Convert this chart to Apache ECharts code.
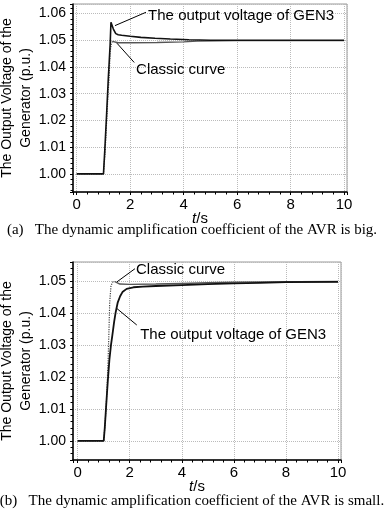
<!DOCTYPE html>
<html>
<head>
<meta charset="utf-8">
<script src="https://cdn.jsdelivr.net/npm/echarts@6/dist/echarts.min.js"></script>
<style>
html, body { margin: 0; padding: 0; background: #fff; }
#chart { width: 384px; height: 513px; }
</style>
</head>
<body>
<div id="chart"></div>
<script>
const FONT = '"Liberation Sans", Arial, sans-serif';

// (a) big dynamic amplification: [t (s), voltage (p.u.)]
const gen3A = [
  [0, 1.000], [1.00, 1.000], [1.05, 1.009], [1.12, 1.023], [1.18, 1.0356],
  [1.22, 1.043], [1.25, 1.0485], [1.28, 1.0568], [1.31, 1.0563], [1.37, 1.0542],
  [1.46, 1.0525], [1.55, 1.0521], [1.68, 1.0519], [2.0, 1.0515], [2.4, 1.0511],
  [2.93, 1.0508], [3.5, 1.0505], [4.2, 1.0502], [5.0, 1.0500], [10, 1.0500]
];
const classicA = [
  [0, 1.000], [1.00, 1.000], [1.06, 1.008], [1.12, 1.020], [1.17, 1.030],
  [1.21, 1.0356], [1.25, 1.0459], [1.29, 1.0485], [1.33, 1.0496],
  [1.40, 1.0494], [1.55, 1.0491], [2.0, 1.0491], [3.0, 1.0492],
  [4.0, 1.0494], [4.5, 1.0497], [6.0, 1.0499], [10, 1.0499]
];
const classicRiseEndA = 8;

// (b) small dynamic amplification
const gen3B = [
  [0, 1.000], [1.00, 1.000], [1.04, 1.004], [1.11, 1.013], [1.16, 1.019],
  [1.22, 1.0255], [1.28, 1.030], [1.33, 1.0329], [1.40, 1.0372], [1.46, 1.0402],
  [1.54, 1.0433], [1.63, 1.0452], [1.72, 1.0465], [1.88, 1.0475], [2.14, 1.0480],
  [2.5, 1.0482], [3.0, 1.0484], [4.0, 1.0487], [5.0, 1.0490], [6.0, 1.0492],
  [7.0, 1.0494], [8.0, 1.0496], [10, 1.0497]
];
const classicB = [
  [0, 1.000], [1.00, 1.000], [1.05, 1.005], [1.11, 1.013], [1.17, 1.0255],
  [1.20, 1.034], [1.23, 1.0433], [1.28, 1.0485], [1.34, 1.0496], [1.43, 1.0498],
  [1.50, 1.0493], [1.62, 1.0490], [2.0, 1.0489], [3.0, 1.0490], [4.0, 1.0492],
  [5.0, 1.0494], [6.0, 1.0496], [7.0, 1.0497], [10, 1.0498]
];
const classicRiseEndB = 9;

const xTicks = [0, 2, 4, 6, 8, 10];
const yTicksA = [1.00, 1.01, 1.02, 1.03, 1.04, 1.05, 1.06];
const yTicksB = [1.00, 1.01, 1.02, 1.03, 1.04, 1.05];

const yName = 'The Output Voltage of the\nGenerator (p.u.)';
const captionA = '(a)   The dynamic amplification coefficient of the AVR is big.';
const captionB = '(b)   The dynamic amplification coefficient of the AVR is small.';
const labelGen3 = 'The output voltage of GEN3';
const labelClassic = 'Classic curve';

// leader lines and labels, in data units of each panel
const notes = [
  { panel: 0, from: [1.43, 1.0555], to: [2.59, 1.0605], text: labelGen3, at: [2.67, 1.0593] },
  { panel: 0, from: [1.47, 1.0493], to: [2.15, 1.0417], text: labelClassic, at: [2.22, 1.0390] },
  { panel: 1, from: [1.51, 1.0497], to: [2.20, 1.0538], text: labelClassic, at: [2.24, 1.0534] },
  { panel: 1, from: [1.50, 1.0414], to: [2.27, 1.0362], text: labelGen3, at: [2.40, 1.0331] }
];

function xAxisFor(idx, min, max) {
  return {
    type: 'value', gridIndex: idx, min: min, max: max,
    name: '{i|t}/s', nameLocation: 'middle', nameGap: 19, nameMoveOverlap: false,
    nameTextStyle: {
      fontSize: 15, color: '#000', fontFamily: FONT, padding: [0, 20, 0, 0],
      rich: { i: { fontStyle: 'italic', fontSize: 15, color: '#000', fontFamily: FONT } }
    },
    axisLine: { show: true, onZero: false, lineStyle: { color: '#000', width: 1.5 } },
    axisTick: { show: true, length: 3, lineStyle: { color: '#000' } },
    minorTick: { show: true, splitNumber: 5, length: 2.5, lineStyle: { color: '#000' } },
    axisLabel: {
      customValues: xTicks, formatter: v => String(v),
      fontSize: 15, color: '#000', margin: 5, fontFamily: FONT
    },
    splitLine: { show: true, lineStyle: { color: '#bbb', type: 'dotted' } }
  };
}

function yAxisFor(idx, min, max, ticks) {
  return {
    type: 'value', gridIndex: idx, min: min, max: max,
    name: yName, nameLocation: 'middle', nameGap: 37, nameMoveOverlap: false,
    nameTextStyle: { fontSize: 14, lineHeight: 19, color: '#000', fontFamily: FONT },
    axisLine: { show: true, onZero: false, lineStyle: { color: '#000', width: 1.5 } },
    axisTick: { show: true, length: 3, lineStyle: { color: '#000' } },
    minorTick: { show: true, splitNumber: 5, length: 2.5, lineStyle: { color: '#000' } },
    axisLabel: {
      customValues: ticks, formatter: v => v.toFixed(2),
      fontSize: 14, color: '#000', margin: 7, fontFamily: FONT
    },
    splitLine: { show: true, lineStyle: { color: '#bbb', type: 'dotted' } }
  };
}

function line(idx, data, style) {
  return {
    type: 'line', xAxisIndex: idx, yAxisIndex: idx, data: data,
    showSymbol: false, animation: false, silent: true,
    lineStyle: style
  };
}

const chart = echarts.init(document.getElementById('chart'));

chart.setOption({
  animation: false,
  grid: [
    { left: 73, top: 4, width: 274, height: 188, show: true, borderColor: '#999', borderWidth: 1,
      outerBoundsMode: 'none', containLabel: false },
    { left: 73, top: 262, width: 268, height: 198, show: true, borderColor: '#999', borderWidth: 1,
      outerBoundsMode: 'none', containLabel: false }
  ],
  xAxis: [xAxisFor(0, -0.14, 10.11), xAxisFor(1, -0.18, 10.115)],
  yAxis: [yAxisFor(0, 0.9932, 1.0636, yTicksA), yAxisFor(1, 0.9940, 1.0559, yTicksB)],
  series: [
    line(0, classicA.slice(0, classicRiseEndA + 1), { color: '#444', width: 1.2, type: 'dotted' }),
    line(0, classicA.slice(classicRiseEndA), { color: '#555', width: 1.4 }),
    line(0, gen3A, { color: '#111', width: 1.6 }),
    line(1, classicB.slice(0, classicRiseEndB + 1), { color: '#444', width: 1.2, type: 'dotted' }),
    line(1, classicB.slice(classicRiseEndB), { color: '#555', width: 1.4 }),
    line(1, gen3B, { color: '#111', width: 1.8 })
  ]
});

const graphics = [];
notes.forEach(n => {
  const finder = { xAxisIndex: n.panel, yAxisIndex: n.panel };
  const p1 = chart.convertToPixel(finder, n.from);
  const p2 = chart.convertToPixel(finder, n.to);
  const pt = chart.convertToPixel(finder, n.at);
  graphics.push({
    type: 'line', silent: true,
    shape: { x1: p1[0], y1: p1[1], x2: p2[0], y2: p2[1] },
    style: { stroke: '#000', lineWidth: 1 }
  });
  graphics.push({
    type: 'text', silent: true,
    style: { text: n.text, x: pt[0], y: pt[1], align: 'left', verticalAlign: 'middle',
      font: '15px ' + FONT, fill: '#000' }
  });
});
[[captionA, 230], [captionB, 501]].forEach(c => {
  graphics.push({
    type: 'text', silent: true,
    style: { text: c[0], x: 192, y: c[1], align: 'center', verticalAlign: 'middle',
      font: '15px "Liberation Serif", "Times New Roman", serif', fill: '#000' }
  });
});
chart.setOption({ graphic: graphics });
</script>
</body>
</html>
